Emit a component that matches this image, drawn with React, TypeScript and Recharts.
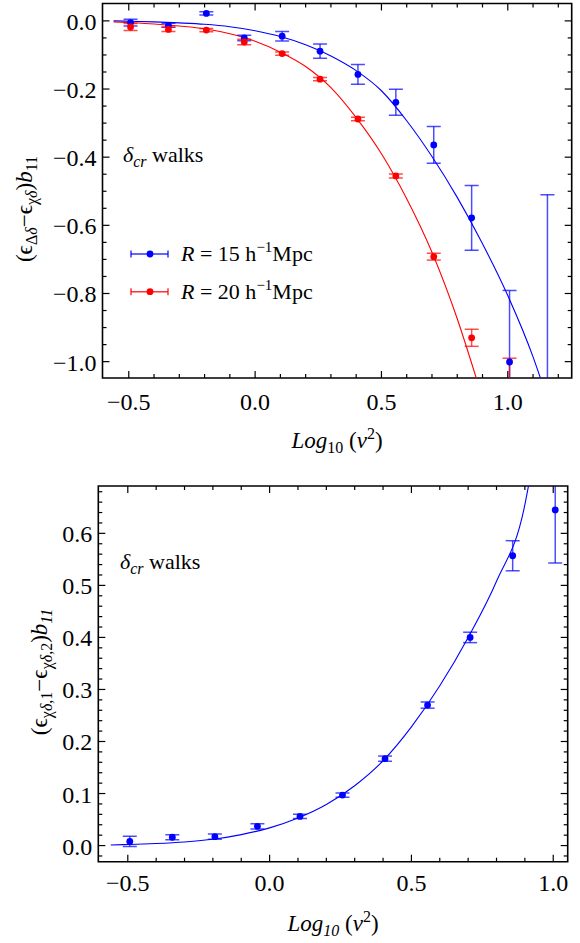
import React from 'react';
import { ComposedChart, Line, Scatter, XAxis, YAxis, ErrorBar, ReferenceArea, Legend } from 'recharts';

const FONT = '"Liberation Serif", "Times New Roman", Tinos, "Nimbus Roman", "Noto Serif", "DejaVu Serif", FreeSerif, serif';
const TXT: React.CSSProperties = { fontFamily: FONT };

// ---------- data ----------
const pointX = [-0.493, -0.343, -0.193, -0.043, 0.107, 0.257, 0.407, 0.557, 0.707, 0.857, 1.007, 1.157];

// top panel: R = 15 (blue) and R = 20 (red)
const r15Y = [-0.005, -0.013, 0.022, -0.05, -0.045, -0.089, -0.157, -0.239, -0.364, -0.578, -1.001, -1.55];
const r15Err = [0.01, 0.006, 0.005, 0.008, 0.014, 0.021, 0.029, 0.038, 0.054, 0.095, 0.21, 1.04];
const r20Y = [-0.018, -0.025, -0.027, -0.062, -0.096, -0.171, -0.288, -0.455, -0.692, -0.93, -1.06];
const r20Err = [0.01, 0.006, 0.005, 0.008, 0.005, 0.005, 0.005, 0.006, 0.01, 0.025, 0.07];

const fit15X = [-0.56, -0.5, -0.4, -0.3, -0.2, -0.1, 0.0, 0.1, 0.2, 0.3, 0.4, 0.5, 0.6, 0.7, 0.8, 0.9, 1.0, 1.1, 1.13];
const fit15Y = [0.0, -0.001, -0.003, -0.006, -0.01, -0.017, -0.029, -0.046, -0.07, -0.103, -0.146, -0.205, -0.293, -0.398, -0.518, -0.654, -0.806, -0.986, -1.05];
const fit20X = [-0.56, -0.5, -0.4, -0.3, -0.2, -0.1, 0.0, 0.1, 0.2, 0.3, 0.4, 0.5, 0.6, 0.7, 0.8, 0.876];
const fit20Y = [-0.003, -0.005, -0.009, -0.015, -0.023, -0.038, -0.06, -0.092, -0.134, -0.196, -0.284, -0.39, -0.522, -0.679, -0.874, -1.05];

// bottom panel
const walkY = [0.008, 0.016, 0.017, 0.037, 0.056, 0.097, 0.167, 0.27, 0.4, 0.557, 0.645];
const walkErr = [0.01, 0.005, 0.005, 0.005, 0.004, 0.004, 0.005, 0.006, 0.01, 0.029, 0.102];
const fitWalkX = [-0.56, -0.5, -0.4, -0.3, -0.2, -0.1, 0.0, 0.1, 0.2, 0.3, 0.4, 0.5, 0.6, 0.7, 0.8, 0.9, 0.913];
const fitWalkY = [0.001, 0.002, 0.004, 0.007, 0.012, 0.021, 0.034, 0.053, 0.079, 0.115, 0.163, 0.228, 0.307, 0.4, 0.508, 0.655, 0.692];

// ticks
const topXTicks = [-0.5, -0.4, -0.3, -0.2, -0.1, 0, 0.1, 0.2, 0.3, 0.4, 0.5, 0.6, 0.7, 0.8, 0.9, 1.0, 1.1, 1.2];
const topXMajor = [-0.5, 0, 0.5, 1.0];
const topXLabels = ['\u22120.5', '0.0', '0.5', '1.0'];
const topYTicks = [0, -0.05, -0.1, -0.15, -0.2, -0.25, -0.3, -0.35, -0.4, -0.45, -0.5, -0.55, -0.6, -0.65, -0.7, -0.75, -0.8, -0.85, -0.9, -0.95, -1.0];
const topYMajor = [0, -0.2, -0.4, -0.6, -0.8, -1.0];
const topYLabels = ['0.0', '\u22120.2', '\u22120.4', '\u22120.6', '\u22120.8', '\u22121.0'];

const botXTicks = [-0.5, -0.4, -0.3, -0.2, -0.1, 0, 0.1, 0.2, 0.3, 0.4, 0.5, 0.6, 0.7, 0.8, 0.9, 1.0];
const botXMajor = [-0.5, 0, 0.5, 1.0];
const botXLabels = ['\u22120.5', '0.0', '0.5', '1.0'];
const botYTicks = [-0.02, 0, 0.02, 0.04, 0.06, 0.08, 0.1, 0.12, 0.14, 0.16, 0.18, 0.2, 0.22, 0.24, 0.26, 0.28, 0.3, 0.32, 0.34, 0.36, 0.38, 0.4, 0.42, 0.44, 0.46, 0.48, 0.5, 0.52, 0.54, 0.56, 0.58, 0.6, 0.62, 0.64, 0.66, 0.68];
const botYMajor = [0, 0.1, 0.2, 0.3, 0.4, 0.5, 0.6];
const botYLabels = ['0.0', '0.1', '0.2', '0.3', '0.4', '0.5', '0.6'];

const legendRadii = ['15', '20'];
const legendColors = ['#0000ff', '#ff0000'];

// ---------- tables ----------
const r15 = pointX.map((x, i) => ({ x, y: r15Y[i], e: r15Err[i] }));
const r20 = r20Y.map((y, i) => ({ x: pointX[i], y, e: r20Err[i] }));
const fit15 = fit15X.map((x, i) => ({ x, y: fit15Y[i] }));
const fit20 = fit20X.map((x, i) => ({ x, y: fit20Y[i] }));
const walk = walkY.map((y, i) => ({ x: pointX[i], y, e: walkErr[i] }));
const fitWalk = fitWalkX.map((x, i) => ({ x, y: fitWalkY[i] }));

// ---------- layout ----------
const W = 580;
const H1 = 470;
const P1 = { left: 102.5, top: 3.5, w: 469.2, h: 374.5 };
const H2 = 473;
const P2 = { left: 98.3, top: 16, w: 469.4, h: 375.7 };

const TICK_FS = 24;
const majorIdx = (majors: number[], v: number) => majors.findIndex((m) => Math.abs(m - v) < 1e-9);

const makeXTick = (majors: number[], labels: string[], plotH: number, labelDy: number) => (props: any) => {
  const { x, y, payload } = props;
  const idx = majorIdx(majors, payload.value);
  const len = idx >= 0 ? 7 : 4;
  return (
    <g>
      <line x1={x} y1={y} x2={x} y2={y - len} stroke="#000" strokeWidth={1.2} />
      <line x1={x} y1={y - plotH} x2={x} y2={y - plotH + len} stroke="#000" strokeWidth={1.2} />
      {idx >= 0 && (
        <text x={x} y={y + labelDy} textAnchor="middle" dominantBaseline="central" style={TXT} fontSize={TICK_FS} fill="#000">
          {labels[idx]}
        </text>
      )}
    </g>
  );
};

const makeYTick = (majors: number[], labels: string[], plotW: number) => (props: any) => {
  const { x, y, payload } = props;
  const idx = majorIdx(majors, payload.value);
  const len = idx >= 0 ? 7 : 4;
  return (
    <g>
      <line x1={x} y1={y} x2={x + len} y2={y} stroke="#000" strokeWidth={1.2} />
      <line x1={x + plotW} y1={y} x2={x + plotW - len} y2={y} stroke="#000" strokeWidth={1.2} />
      {idx >= 0 && (
        <text x={x - 6} y={y + 1} textAnchor="end" dominantBaseline="central" style={TXT} fontSize={TICK_FS} fill="#000">
          {labels[idx]}
        </text>
      )}
    </g>
  );
};

const dot = (color: string) => (p: any) => <circle cx={p.cx} cy={p.cy} r={3.4} fill={color} />;

const XLabelTop = (props: any) => {
  const vb = props.viewBox;
  const cx = vb.x + vb.width / 2;
  const y = vb.y + 70;
  return (
    <text x={cx} y={y} textAnchor="middle" style={TXT} fontSize={23} fill="#000">
      <tspan fontStyle="italic">Log</tspan>
      <tspan fontSize={16} dy={5}>10</tspan>
      <tspan dy={-5}>{' ('}</tspan>
      <tspan fontStyle="italic">ν</tspan>
      <tspan fontSize={16} dy={-9}>2</tspan>
      <tspan dy={9}>)</tspan>
    </text>
  );
};

const XLabelBot = (props: any) => {
  const vb = props.viewBox;
  const cx = vb.x + vb.width / 2;
  const y = vb.y + 69;
  return (
    <text x={cx} y={y} textAnchor="middle" style={TXT} fontSize={23} fill="#000">
      <tspan fontStyle="italic">Log</tspan>
      <tspan fontSize={16} dy={5} fontStyle="italic">10</tspan>
      <tspan dy={-5}>{' ('}</tspan>
      <tspan fontStyle="italic">ν</tspan>
      <tspan fontSize={16} dy={-9}>2</tspan>
      <tspan dy={9}>)</tspan>
    </text>
  );
};

const YLabelTop = () => {
  const cx = 32;
  const cy = 209;
  return (
    <text x={cx} y={cy} transform={`rotate(-90 ${cx} ${cy})`} textAnchor="middle" style={TXT} fontSize={23} fill="#000">
      <tspan>(ϵ</tspan>
      <tspan fontSize={16} dy={5}>Δ</tspan>
      <tspan fontSize={16} fontStyle="italic">δ</tspan>
      <tspan dy={-5}>−ϵ</tspan>
      <tspan fontSize={16} dy={5}>χ</tspan>
      <tspan fontSize={16} fontStyle="italic">δ</tspan>
      <tspan dy={-5}>)</tspan>
      <tspan fontStyle="italic">b</tspan>
      <tspan fontSize={16} dy={5}>11</tspan>
    </text>
  );
};

const YLabelBot = () => {
  const cx = 47;
  const cy = 202;
  return (
    <text x={cx} y={cy} transform={`rotate(-90 ${cx} ${cy})`} textAnchor="middle" style={TXT} fontSize={23} fill="#000">
      <tspan>(ϵ</tspan>
      <tspan fontSize={16} dy={5}>χ</tspan>
      <tspan fontSize={16} fontStyle="italic">δ</tspan>
      <tspan fontSize={16}>,1</tspan>
      <tspan dy={-5}>−ϵ</tspan>
      <tspan fontSize={16} dy={5}>χ</tspan>
      <tspan fontSize={16} fontStyle="italic">δ</tspan>
      <tspan fontSize={16}>,2</tspan>
      <tspan dy={-5}>)</tspan>
      <tspan fontStyle="italic">b</tspan>
      <tspan fontSize={16} dy={5} fontStyle="italic">11</tspan>
    </text>
  );
};

const LegendBox = () => (
  <svg width={260} height={75} style={{ overflow: 'visible' }}>
    {legendRadii.map((r, i) => {
      const y = 16 + i * 37.7;
      const c = legendColors[i];
      return (
        <g key={r}>
          <line x1={6} y1={y} x2={43} y2={y} stroke={c} strokeWidth={1.5} strokeOpacity={0.8} />
          <line x1={6} y1={y - 3.5} x2={6} y2={y + 3.5} stroke={c} strokeWidth={1.5} strokeOpacity={0.8} />
          <line x1={43} y1={y - 3.5} x2={43} y2={y + 3.5} stroke={c} strokeWidth={1.5} strokeOpacity={0.8} />
          <circle cx={25} cy={y} r={3.4} fill={c} />
          <text x={56} y={y + 7} style={TXT} fontSize={22} fill="#000">
            <tspan fontStyle="italic">R</tspan>
            <tspan>{` = ${r} h`}</tspan>
            <tspan fontSize={15} dy={-9}>−1</tspan>
            <tspan dy={9}>Mpc</tspan>
          </text>
        </g>
      );
    })}
  </svg>
);

const WalksText = ({ x, y }: { x: number; y: number }) => (
  <text x={x} y={y} style={TXT} fontSize={22} fill="#000">
    <tspan fontStyle="italic">δ</tspan>
    <tspan fontStyle="italic" fontSize={16} dy={5}>cr</tspan>
    <tspan dy={-5}> walks</tspan>
  </text>
);

const CSS = `
.panel-top .recharts-errorBars { clip-path: url(#clip-top); }
.panel-bot .recharts-errorBars { clip-path: url(#clip-bot); }
`;

export default function App() {
  return (
    <div style={{ position: 'absolute', left: 0, top: 0, width: W, height: H1 + H2, background: '#fff', fontFamily: FONT }}>
      <style>{CSS}</style>
      <svg width={0} height={0} style={{ position: 'absolute' }}>
        <defs>
          <clipPath id="clip-top" clipPathUnits="userSpaceOnUse">
            <rect x={P1.left} y={P1.top} width={P1.w} height={P1.h} />
          </clipPath>
          <clipPath id="clip-bot" clipPathUnits="userSpaceOnUse">
            <rect x={P2.left} y={P2.top} width={P2.w} height={P2.h} />
          </clipPath>
        </defs>
      </svg>
      <div className="panel-top" style={{ position: 'absolute', left: 0, top: 0 }}>
        <ComposedChart width={W} height={H1} margin={{ top: P1.top, right: W - P1.left - P1.w, bottom: 0, left: 0 }}>
          <XAxis
            dataKey="x"
            type="number"
            domain={[-0.604, 1.253]}
            allowDataOverflow
            ticks={topXTicks}
            interval={0}
            tickSize={0}
            tickMargin={0}
            axisLine={false}
            tickLine={false}
            height={H1 - P1.top - P1.h}
            tick={makeXTick(topXMajor, topXLabels, P1.h, 23.7)}
            label={(p: any) => <XLabelTop {...p} />}
          />
          <YAxis
            type="number"
            domain={[-1.048, 0.051]}
            allowDataOverflow
            ticks={topYTicks}
            interval={0}
            tickSize={0}
            tickMargin={0}
            axisLine={false}
            tickLine={false}
            width={P1.left}
            tick={makeYTick(topYMajor, topYLabels, P1.w)}
            label={() => <YLabelTop />}
          />
          <ReferenceArea x1={-0.604} x2={1.253} y1={-1.048} y2={0.051} fill="none" stroke="#000" strokeWidth={1.6} ifOverflow="visible" />
          <Line data={fit15} dataKey="y" type="monotone" stroke="#0000ff" strokeWidth={1.1} dot={false} isAnimationActive={false} />
          <Line data={fit20} dataKey="y" type="monotone" stroke="#ff0000" strokeWidth={1.1} dot={false} isAnimationActive={false} />
          <Scatter data={r15} dataKey="y" fill="#0000ff" shape={dot('#0000ff')} isAnimationActive={false}>
            <ErrorBar dataKey="e" direction="y" width={7} stroke="#0000ff" strokeOpacity={0.7} strokeWidth={1.5} isAnimationActive={false} />
          </Scatter>
          <Scatter data={r20} dataKey="y" fill="#ff0000" shape={dot('#ff0000')} isAnimationActive={false}>
            <ErrorBar dataKey="e" direction="y" width={7} stroke="#ff0000" strokeOpacity={0.7} strokeWidth={1.5} isAnimationActive={false} />
          </Scatter>
          <Legend
            layout="horizontal"
            verticalAlign="middle"
            align="center"
            wrapperStyle={{ left: 125, top: 238, width: 260, height: 75 }}
            content={() => <LegendBox />}
          />
        </ComposedChart>
      </div>
      <div className="panel-bot" style={{ position: 'absolute', left: 0, top: H1 }}>
        <ComposedChart width={W} height={H2} margin={{ top: P2.top, right: W - P2.left - P2.w, bottom: 0, left: 0 }}>
          <XAxis
            dataKey="x"
            type="number"
            domain={[-0.604, 1.051]}
            allowDataOverflow
            ticks={botXTicks}
            interval={0}
            tickSize={0}
            tickMargin={0}
            axisLine={false}
            tickLine={false}
            height={H2 - P2.top - P2.h}
            tick={makeXTick(botXMajor, botXLabels, P2.h, 21.7)}
            label={(p: any) => <XLabelBot {...p} />}
          />
          <YAxis
            type="number"
            domain={[-0.031, 0.691]}
            allowDataOverflow
            ticks={botYTicks}
            interval={0}
            tickSize={0}
            tickMargin={0}
            axisLine={false}
            tickLine={false}
            width={P2.left}
            tick={makeYTick(botYMajor, botYLabels, P2.w)}
            label={() => <YLabelBot />}
          />
          <ReferenceArea x1={-0.604} x2={1.051} y1={-0.031} y2={0.691} fill="none" stroke="#000" strokeWidth={1.6} ifOverflow="visible" />
          <Line data={fitWalk} dataKey="y" type="monotone" stroke="#0000ff" strokeWidth={1.1} dot={false} isAnimationActive={false} />
          <Scatter data={walk} dataKey="y" fill="#0000ff" shape={dot('#0000ff')} isAnimationActive={false}>
            <ErrorBar dataKey="e" direction="y" width={7} stroke="#0000ff" strokeOpacity={0.7} strokeWidth={1.5} isAnimationActive={false} />
          </Scatter>
        </ComposedChart>
      </div>
      <svg width={W} height={H1 + H2} style={{ position: 'absolute', left: 0, top: 0, pointerEvents: 'none' }}>
        <WalksText x={123} y={162} />
        <WalksText x={120} y={569} />
      </svg>
    </div>
  );
}
